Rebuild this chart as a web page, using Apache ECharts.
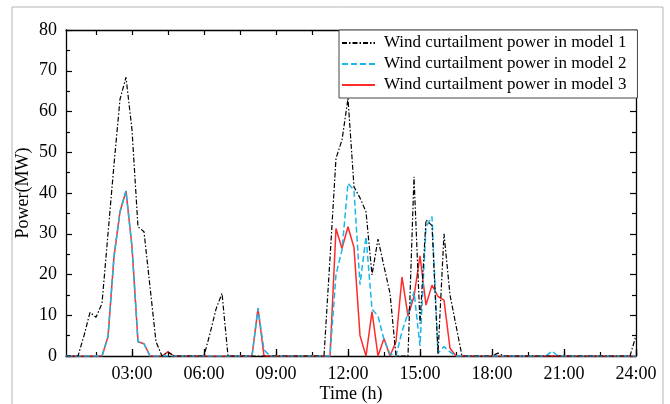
<!DOCTYPE html>
<html>
<head>
<meta charset="utf-8">
<script src="https://cdn.jsdelivr.net/npm/echarts@6/dist/echarts.min.js"></script>
<style>
  html, body { margin: 0; padding: 0; background: #fff; }
  #main { width: 670px; height: 404px; }
</style>
</head>
<body>
<div id="main"></div>
<script>
// time axis, one point every 15 minutes
var times = [
    '00:15', '00:30', '00:45', '01:00', '01:15', '01:30', '01:45', '02:00', '02:15', '02:30', '02:45', '03:00',
    '03:15', '03:30', '03:45', '04:00', '04:15', '04:30', '04:45', '05:00', '05:15', '05:30', '05:45', '06:00',
    '06:15', '06:30', '06:45', '07:00', '07:15', '07:30', '07:45', '08:00', '08:15', '08:30', '08:45', '09:00',
    '09:15', '09:30', '09:45', '10:00', '10:15', '10:30', '10:45', '11:00', '11:15', '11:30', '11:45', '12:00',
    '12:15', '12:30', '12:45', '13:00', '13:15', '13:30', '13:45', '14:00', '14:15', '14:30', '14:45', '15:00',
    '15:15', '15:30', '15:45', '16:00', '16:15', '16:30', '16:45', '17:00', '17:15', '17:30', '17:45', '18:00',
    '18:15', '18:30', '18:45', '19:00', '19:15', '19:30', '19:45', '20:00', '20:15', '20:30', '20:45', '21:00',
    '21:15', '21:30', '21:45', '22:00', '22:15', '22:30', '22:45', '23:00', '23:15', '23:30', '23:45', '24:00'
];

var model1 = [
    0, 0, 0, 5, 10.7, 9.5, 12.9, 30, 47, 63, 68.4, 55.5,
    31.7, 30.5, 17, 3.5, 0, 1, 0, 0, 0, 0, 0, 0,
    5.5, 11.5, 15.4, 0, 0, 0, 0, 0, 0, 0, 0, 0,
    0, 0, 0, 0, 0, 0, 0, 0, 24, 48.5, 53, 63.2,
    41.5, 38.8, 35.4, 19.9, 28.7, 22, 15.4, 0, 0, 0, 44, 8,
    33.4, 32, 0.5, 30, 15, 7.5, 0, 0, 0, 0, 0, 0,
    0.7, 0, 0, 0, 0, 0, 0, 0, 0, 0, 0, 0,
    0, 0, 0, 0, 0, 0, 0, 0, 0, 0, 0, 5
];

var model2 = [
    0, 0, 0, 0, 0, 0, 0, 4.7, 24.4, 35.4, 40.5, 26.8,
    3.5, 3, 0, 0, 0, 0, 0, 0, 0, 0, 0, 0,
    0, 0, 0, 0, 0, 0, 0, 0, 11.7, 1.5, 0, 0,
    0, 0, 0, 0, 0, 0, 0, 0, 0, 20, 26, 42.4,
    40.7, 17.5, 29.3, 11.5, 9.8, 4, 0.5, 0, 6, 10.5, 15.8, 2.5,
    31.7, 34.2, 0.7, 2.3, 1, 0, 0, 0, 0, 0, 0, 0,
    0, 0, 0, 0, 0, 0, 0, 0, 0, 1.2, 0, 0,
    0, 0, 0, 0, 0, 0, 0, 0, 0, 0, 0, 0
];

var model3 = [
    0, 0, 0, 0, 0, 0, 0, 4.7, 24.4, 35.4, 40.5, 26.8,
    3.5, 3, 0, 0, 0, 1, 0, 0, 0, 0, 0, 0,
    0, 0, 0, 0, 0, 0, 0, 0, 11.7, 0, 0, 0,
    0, 0, 0, 0, 0, 0, 0, 0, 0, 31.3, 26.4, 31.7,
    26.6, 5, 0, 10.9, 0, 4.3, 0, 3.5, 19.4, 9.8, 14.6, 24.6,
    12.5, 17.4, 14.6, 13.7, 1.9, 0, 0, 0, 0, 0, 0, 0,
    0, 0, 0, 0, 0, 0, 0, 0, 0, 0, 0, 0,
    0, 0, 0, 0, 0, 0, 0, 0, 0, 0, 0, 0
];

var seriesNames = [
    'Wind curtailment power in model 1',
    'Wind curtailment power in model 2',
    'Wind curtailment power in model 3'
];

var serif = 'Liberation Serif';
var myChart = echarts.init(document.getElementById('main'));

function everyN(n) {
    return function (index) {
        return (index + 1) % n === 0;
    };
}

var option = {
    animation: false,
    backgroundColor: '#fff',
    textStyle: { fontFamily: serif, color: '#000' },
    graphic: [{
        type: 'rect',
        shape: { x: 12, y: 7, width: 651, height: 420 },
        style: { fill: 'none', stroke: '#b5b5b5', lineWidth: 1 },
        silent: true
    }],
    grid: { left: 66, right: 34, top: 30, bottom: 48, outerBoundsMode: 'none' },
    legend: {
        orient: 'vertical',
        left: 339,
        top: 30,
        padding: [3, 11, 3, 2],
        itemGap: 1,
        itemWidth: 33,
        itemHeight: 14,
        borderColor: '#444',
        borderWidth: 1,
        backgroundColor: '#fff',
        itemStyle: { opacity: 0 },
        textStyle: { fontFamily: serif, fontSize: 17, color: '#000', lineHeight: 20, padding: [0, 0, 0, 4] },
        data: seriesNames
    },
    xAxis: [
        {
            type: 'category',
            data: times,
            boundaryGap: false,
            position: 'bottom',
            name: 'Time (h)',
            nameLocation: 'middle',
            nameGap: 29,
            nameMoveOverlap: false,
            nameTextStyle: { fontFamily: serif, fontSize: 18, color: '#000' },
            axisLine: { lineStyle: { color: '#000', width: 1.3 } },
            axisTick: { inside: true, length: 7, interval: everyN(12), lineStyle: { color: '#000', width: 1.3 } },
            axisLabel: { interval: everyN(12), fontFamily: serif, fontSize: 18, color: '#000', margin: 9 },
            splitLine: { show: false }
        },
        {
            type: 'category',
            data: times,
            boundaryGap: false,
            position: 'bottom',
            axisLine: { show: false },
            axisTick: { inside: true, length: 4, interval: everyN(6), lineStyle: { color: '#000', width: 1.2 } },
            axisLabel: { show: false },
            splitLine: { show: false }
        },
        {
            type: 'category',
            data: times,
            boundaryGap: false,
            position: 'top',
            axisLine: { lineStyle: { color: '#000', width: 1.3 } },
            axisTick: { inside: true, length: 5, interval: everyN(6), lineStyle: { color: '#000', width: 1.2 } },
            axisLabel: { show: false },
            splitLine: { show: false }
        }
    ],
    yAxis: [
        {
            type: 'value',
            min: 0,
            max: 80,
            interval: 10,
            position: 'left',
            name: 'Power(MW)',
            nameLocation: 'middle',
            nameGap: 34,
            nameMoveOverlap: false,
            nameTextStyle: { fontFamily: serif, fontSize: 18, color: '#000' },
            axisLine: { show: true, lineStyle: { color: '#000', width: 1.3 } },
            axisTick: { show: true, inside: true, length: 6, lineStyle: { color: '#000', width: 1.2 } },
            minorTick: { show: true, splitNumber: 2, length: 4, lineStyle: { color: '#000', width: 1.2 } },
            axisLabel: { fontFamily: serif, fontSize: 18, color: '#000', margin: 9 },
            splitLine: { show: false }
        },
        {
            type: 'value',
            min: 0,
            max: 80,
            interval: 10,
            position: 'right',
            axisLine: { show: true, lineStyle: { color: '#000', width: 1.3 } },
            axisTick: { show: true, inside: true, length: 6, lineStyle: { color: '#000', width: 1.2 } },
            minorTick: { show: true, splitNumber: 2, length: 4, lineStyle: { color: '#000', width: 1.2 } },
            axisLabel: { show: false },
            splitLine: { show: false }
        }
    ],
    series: [
        {
            name: seriesNames[0],
            type: 'line',
            symbol: 'none',
            z: 4,
            color: '#000',
            lineStyle: { color: '#000', width: 1.2, type: [5, 2, 1.5, 2] },
            data: model1
        },
        {
            name: seriesNames[1],
            type: 'line',
            symbol: 'none',
            z: 3,
            color: '#1ab6ea',
            lineStyle: { color: '#1ab6ea', width: 1.5, type: [6, 3] },
            data: model2
        },
        {
            name: seriesNames[2],
            type: 'line',
            symbol: 'none',
            z: 2,
            color: '#ff2a2a',
            lineStyle: { color: '#ff2a2a', width: 1.5 },
            data: model3
        }
    ]
};

myChart.setOption(option, true);
</script>
</body>
</html>
